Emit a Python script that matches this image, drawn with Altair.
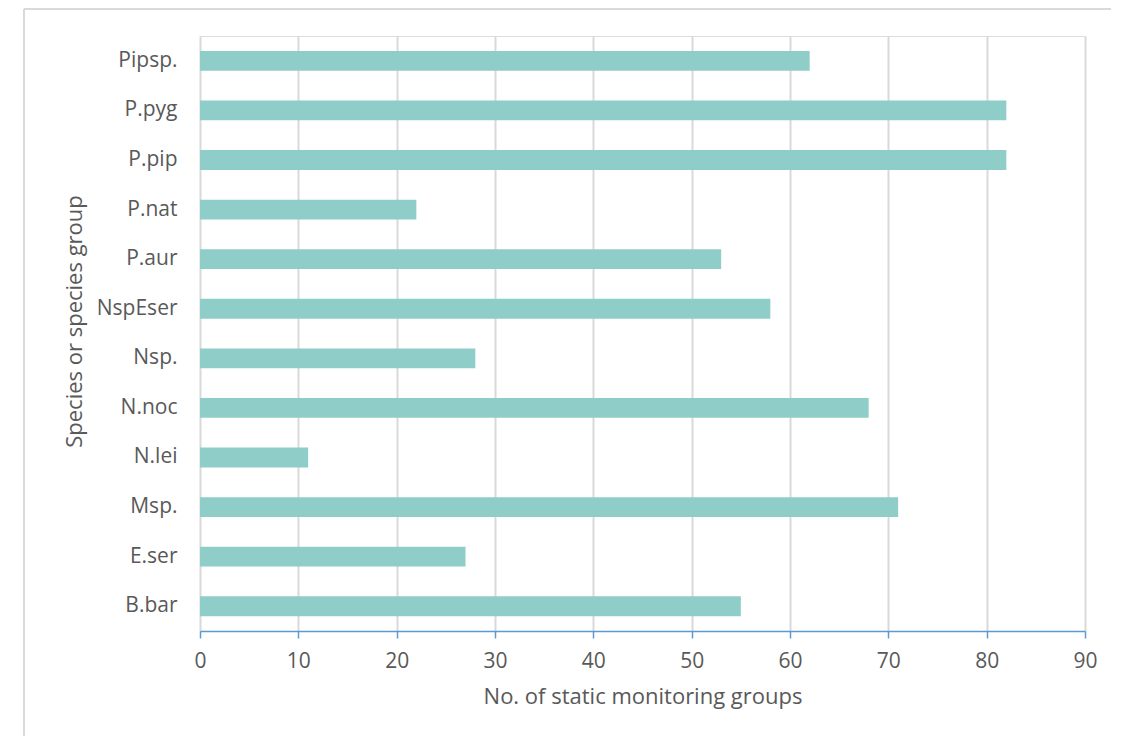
import altair as alt
import pandas as pd

species = ["Pipsp.", "P.pyg", "P.pip", "P.nat", "P.aur", "NspEser", "Nsp.",
           "N.noc", "N.lei", "Msp.", "E.ser", "B.bar"]
counts = [62, 82, 82, 22, 53, 58, 28, 68, 11, 71, 27, 55]

df = pd.DataFrame({"species": species, "count": counts})

font = "Open Sans"
text_color = "#595959"

bars = alt.Chart(df).mark_bar(color="#8ECDC8").encode(
    y=alt.Y("species:N", sort=species,
            scale=alt.Scale(paddingInner=0.6, paddingOuter=0.3),
            axis=alt.Axis(title="Species or species group", domain=False, ticks=False,
                          labelPadding=23, labelFontSize=21, labelColor=text_color,
                          titleFontSize=22, titleColor=text_color, titleFontWeight="normal",
                          titlePadding=10, titleY=285, labelFont=font, titleFont=font)),
    x=alt.X("count:Q", scale=alt.Scale(domain=[0, 90], nice=False),
            axis=alt.Axis(title="No. of static monitoring groups", values=list(range(0, 100, 10)),
                          grid=True, gridColor="#D9D9D9", gridWidth=2,
                          domainColor="#5B9BD5", domainWidth=1.5, tickColor="#5B9BD5",
                          tickSize=7, tickWidth=1.5, labelPadding=12, labelFontSize=21,
                          labelFlush=False, labelColor=text_color, titleFontSize=22,
                          titleColor=text_color, titleFontWeight="normal", titlePadding=15,
                          labelFont=font, titleFont=font)),
)

frame_top = alt.Chart(df).mark_rule(color="#D9D9D9", strokeWidth=1.5).encode(
    x=alt.value(-176), x2=alt.value(1000), y=alt.value(-27)
)
frame_left = alt.Chart(df).mark_rule(color="#D9D9D9", strokeWidth=1.5).encode(
    x=alt.value(-176), y=alt.value(-27), y2=alt.value(800)
)

chart = alt.layer(frame_top, frame_left, bars).properties(
    width=885, height=595,
    padding={"left": 192, "top": 28, "right": 26, "bottom": 105},
    autosize=alt.AutoSizeParams(type="none"),
).configure_view(stroke=None).configure(background="white")

chart.save("out.html", embed_options={"renderer": "svg", "actions": False})
